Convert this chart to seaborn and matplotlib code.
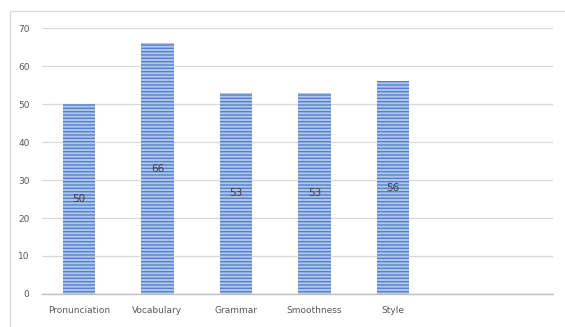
import matplotlib
matplotlib.use("Agg")
import matplotlib.pyplot as plt
import seaborn as sns
from matplotlib.lines import Line2D

categories = ["Pronunciation", "Vocabulary", "Grammar", "Smoothness", "Style"]
scores = [50, 66, 53, 53, 56]
yticks = [0, 10, 20, 30, 40, 50, 60, 70]

sns.set_style("white")
plt.rcParams["font.family"] = ["DejaVu Sans"]
plt.rcParams["hatch.linewidth"] = 1.0

fig = plt.figure(figsize=(5.65, 3.27), dpi=100)
ax = fig.add_axes([0.0743, 0.101, 0.905, 0.813])

sns.barplot(x=categories, y=scores, ax=ax, width=0.41, color="#b0c6ea",
            saturation=1, edgecolor="#5580cb", linewidth=0)
for bar in ax.patches:
    bar.set_hatch("-----")

ax.bar_label(ax.containers[0], label_type="center", fontsize=7.5, color="#404040")

ax.set_xlim(-0.47, 6.04)
ax.set_ylim(0, 70)
ax.set_yticks(yticks)
ax.yaxis.grid(True, color="#d9d9d9", linewidth=0.9)
ax.set_axisbelow(True)
for s in ["top", "right", "left"]:
    ax.spines[s].set_visible(False)
ax.spines["bottom"].set_color("#bfbfbf")
ax.spines["bottom"].set_linewidth(1.0)
ax.tick_params(axis="both", length=0, labelsize=6.5, labelcolor="#595959")
ax.tick_params(axis="y", pad=9)
ax.tick_params(axis="x", pad=9)
ax.set_xlabel("")
ax.set_ylabel("")

# chart border (top and left edge of the chart box)
fig.add_artist(Line2D([0.018, 1.0], [0.966, 0.966], transform=fig.transFigure,
                      color="#d9d9d9", linewidth=0.9))
fig.add_artist(Line2D([0.018, 0.018], [0.0, 0.966], transform=fig.transFigure,
                      color="#d9d9d9", linewidth=0.9))

fig.savefig("out.png", dpi=100)
